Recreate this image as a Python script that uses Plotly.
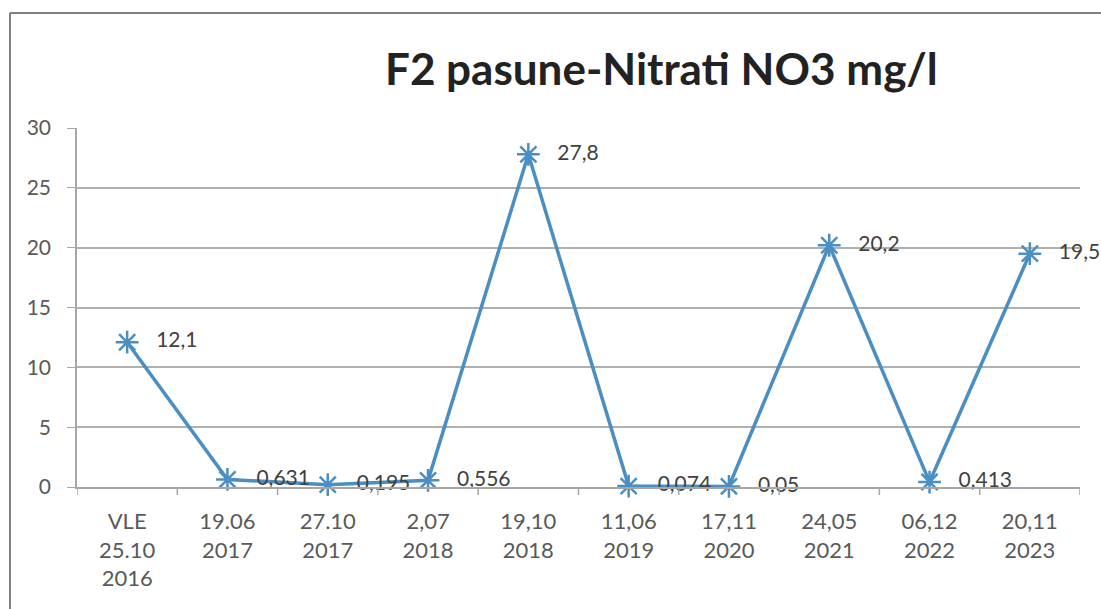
import plotly.graph_objects as go

# Sampling dates (category labels) and nitrate values, mg/l
categories = [
    "VLE<br>25.10<br>2016",
    "19.06<br>2017",
    "27.10<br>2017",
    "2,07<br>2018",
    "19,10<br>2018",
    "11,06<br>2019",
    "17,11<br>2020",
    "24,05<br>2021",
    "06,12<br>2022",
    "20,11<br>2023",
]
nitrati = [12.1, 0.631, 0.195, 0.556, 27.8, 0.074, 0.05, 20.2, 0.413, 19.5]
y_ticks = [0, 5, 10, 15, 20, 25, 30]

# value labels with decimal comma, offset from the marker
labels = ["   " + str(v).replace(".", ",") for v in nitrati]

LINE = "#4a8ec2"
FONT = "Lato"

fig = go.Figure(
    go.Scatter(
        x=list(range(len(categories))),
        y=nitrati,
        mode="lines+markers+text",
        line=dict(color=LINE, width=3.5),
        marker=dict(symbol="asterisk-open", size=19, line=dict(color=LINE, width=2.5)),
        text=labels,
        textposition="middle right",
        textfont=dict(family=FONT, size=21, color="#404040"),
        cliponaxis=False,
        showlegend=False,
    )
)

W, H = 1101, 609
L, R, T, B = 77, 1080, 128, 487

fig.update_layout(
    width=W,
    height=H,
    margin=dict(l=L, r=W - R, t=T, b=H - B),
    paper_bgcolor="white",
    plot_bgcolor="white",
    font=dict(family=FONT, color="#595959"),
    xaxis=dict(
        range=[-0.5, len(categories) - 0.5],
        tickmode="array",
        tickvals=list(range(len(categories))),
        ticktext=categories,
        tickfont=dict(family=FONT, size=22, color="#595959"),
        ticklabelstandoff=14,
        showgrid=False,
        showline=True,
        linecolor="#a6a6a6",
        linewidth=1.5,
        ticks="",
        zeroline=False,
    ),
    yaxis=dict(
        range=[0, 30],
        tickvals=y_ticks,
        tickfont=dict(family=FONT, size=21, color="#595959"),
        ticklabelstandoff=12,
        showgrid=True,
        gridcolor="#b0b0b0",
        gridwidth=1.5,
        showline=True,
        linecolor="#a6a6a6",
        linewidth=1.5,
        ticks="outside",
        ticklen=8,
        tickcolor="#a6a6a6",
        zeroline=False,
    ),
)

# tick marks at category boundaries on the category axis
pw = R - L
ph = B - T
for i in range(len(categories) + 1):
    fig.add_shape(
        type="line", xref="x", yref="paper",
        x0=i - 0.5, x1=i - 0.5, y0=0, y1=-8 / ph,
        line=dict(color="#a6a6a6", width=1.5),
    )

# chart area frame: left and top edges
frame = dict(color="#7f7f7f", width=2)
fig.add_shape(
    type="line", xref="paper", yref="paper",
    x0=(10 - L) / pw, x1=(10 - L) / pw,
    y0=(B - H - 5) / ph, y1=(B - 13) / ph,
    line=frame,
)
fig.add_shape(
    type="line", xref="paper", yref="paper",
    x0=(10 - L) / pw, x1=(W + 5 - L) / pw,
    y0=(B - 13) / ph, y1=(B - 13) / ph,
    line=frame,
)

fig.add_annotation(
    text="<b>F2 pasune-Nitrati NO3 mg/l</b>",
    xref="paper", yref="paper",
    x=(661 - L) / pw, y=(B - 68) / ph,
    xanchor="center", yanchor="middle",
    showarrow=False,
    font=dict(family=FONT, size=44, color="#222222"),
)

fig.write_html("out.html")
